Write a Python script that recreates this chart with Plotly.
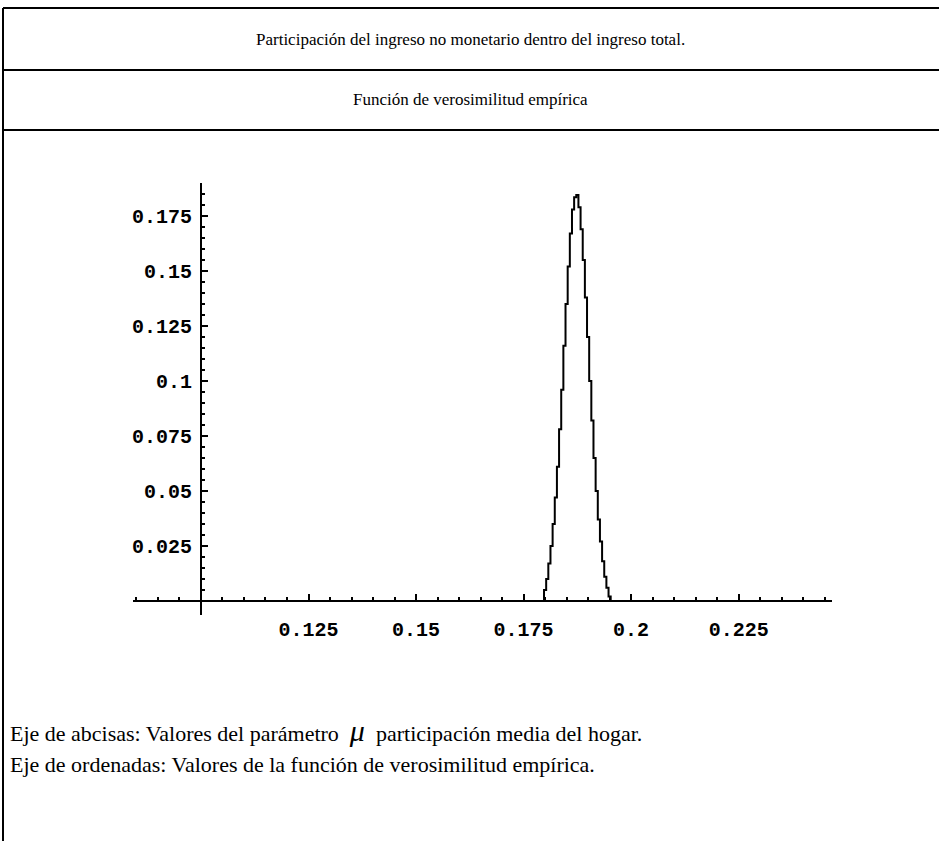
import plotly.graph_objects as go

# ---- data ----
mu = [0.1790, 0.1795, 0.1800, 0.1805, 0.1810, 0.1815, 0.1820, 0.1825, 0.1830,
      0.1835, 0.1840, 0.1845, 0.1850, 0.1855, 0.1860, 0.1865, 0.1870, 0.1875,
      0.1880, 0.1885, 0.1890, 0.1895, 0.1900, 0.1905, 0.1910, 0.1915, 0.1920,
      0.1925, 0.1930, 0.1935, 0.1940, 0.1945, 0.1950, 0.1955, 0.1960]
likelihood = [0.0, 0.0, 0.005, 0.010, 0.017, 0.025, 0.035, 0.047, 0.061,
              0.078, 0.096, 0.116, 0.135, 0.152, 0.167, 0.178, 0.1835, 0.1845,
              0.179, 0.169, 0.155, 0.138, 0.120, 0.100, 0.082, 0.065, 0.050,
              0.037, 0.027, 0.018, 0.011, 0.006, 0.002, 0.0, 0.0]

x_tickvals = [0.1, 0.125, 0.15, 0.175, 0.2, 0.225]
x_ticktext = ["", "0.125", "0.15", "0.175", "0.2", "0.225"]
y_tickvals = [0.025, 0.05, 0.075, 0.1, 0.125, 0.15, 0.175]
y_ticktext = ["0.025", "0.05", "0.075", "0.1", "0.125", "0.15", "0.175"]

title1 = "Participación del ingreso no monetario dentro del ingreso total."
title2 = "Función de verosimilitud empírica"
note1a = "Eje de abcisas: Valores del parámetro"
note1b = "participación media del hogar."
note2 = "Eje de ordenadas: Valores de la función de verosimilitud empírica."

W, H = 939, 841
x_range = [0.0842, 0.2467]
y_range = [-0.0064, 0.19]

x_minor = [round(0.085 + 0.005 * i, 3) for i in range(33)]
x_minor = [v for v in x_minor if all(abs(v - t) > 1e-9 for t in x_tickvals)]
y_minor = [round(0.005 * i, 3) for i in range(1, 38)]
y_minor = [v for v in y_minor if all(abs(v - t) > 1e-9 for t in y_tickvals)]

fig = go.Figure()
fig.add_trace(go.Scatter(x=mu, y=likelihood, mode="lines",
                         line=dict(color="black", width=2, shape="hvh"),
                         showlegend=False, hoverinfo="skip"))

mono = dict(family="Liberation Mono", size=20, color="black", weight="bold")
serif = "Liberation Serif"

fig.update_layout(
    width=W, height=H, margin=dict(l=0, r=0, t=0, b=0),
    paper_bgcolor="white", plot_bgcolor="white",
    xaxis=dict(domain=[133 / W, 832 / W], range=x_range, anchor="free",
               position=(H - 601) / H, showline=True, linecolor="black",
               linewidth=2, showgrid=False, zeroline=False,
               ticks="inside", ticklen=6, tickwidth=2, tickcolor="black",
               tickmode="array", tickvals=x_tickvals, ticktext=x_ticktext,
               tickfont=mono, ticklabelstandoff=10,
               minor=dict(tickmode="array", tickvals=x_minor, ticks="inside",
                          ticklen=3, tickwidth=2, tickcolor="black",
                          showgrid=False)),
    yaxis=dict(domain=[(H - 615) / H, (H - 183) / H], range=y_range,
               anchor="free", position=201 / W, showline=True,
               linecolor="black", linewidth=2, showgrid=False, zeroline=False,
               ticks="inside", ticklen=6, tickwidth=2, tickcolor="black",
               tickmode="array", tickvals=y_tickvals, ticktext=y_ticktext,
               tickfont=mono, ticklabelstandoff=4,
               minor=dict(tickmode="array", tickvals=y_minor, ticks="inside",
                          ticklen=3, tickwidth=2, tickcolor="black",
                          showgrid=False)),
)

# frame lines of the table
line = dict(color="black", width=2)
for yp in [8, 70, 130]:
    fig.add_shape(type="line", xref="paper", yref="paper",
                  x0=3 / W, x1=1, y0=(H - yp) / H, y1=(H - yp) / H, line=line)
fig.add_shape(type="line", xref="paper", yref="paper",
              x0=3 / W, x1=3 / W, y0=0, y1=(H - 8) / H, line=line)

def ann(text, x, y, size, xanchor="center"):
    fig.add_annotation(text=text, xref="paper", yref="paper",
                       x=x / W, y=(H - y) / H, xanchor=xanchor, yanchor="middle",
                       showarrow=False,
                       font=dict(family=serif, size=size, color="black"))

ann(title1, 470, 40, 17)
ann(title2, 470, 100, 17)
ann(note1a + '  <span style="font-size:30px"><i>μ</i></span>  ' + note1b,
    8, 730, 22, xanchor="left")
ann(note2, 8, 764, 22, xanchor="left")

fig.write_html("out.html")
